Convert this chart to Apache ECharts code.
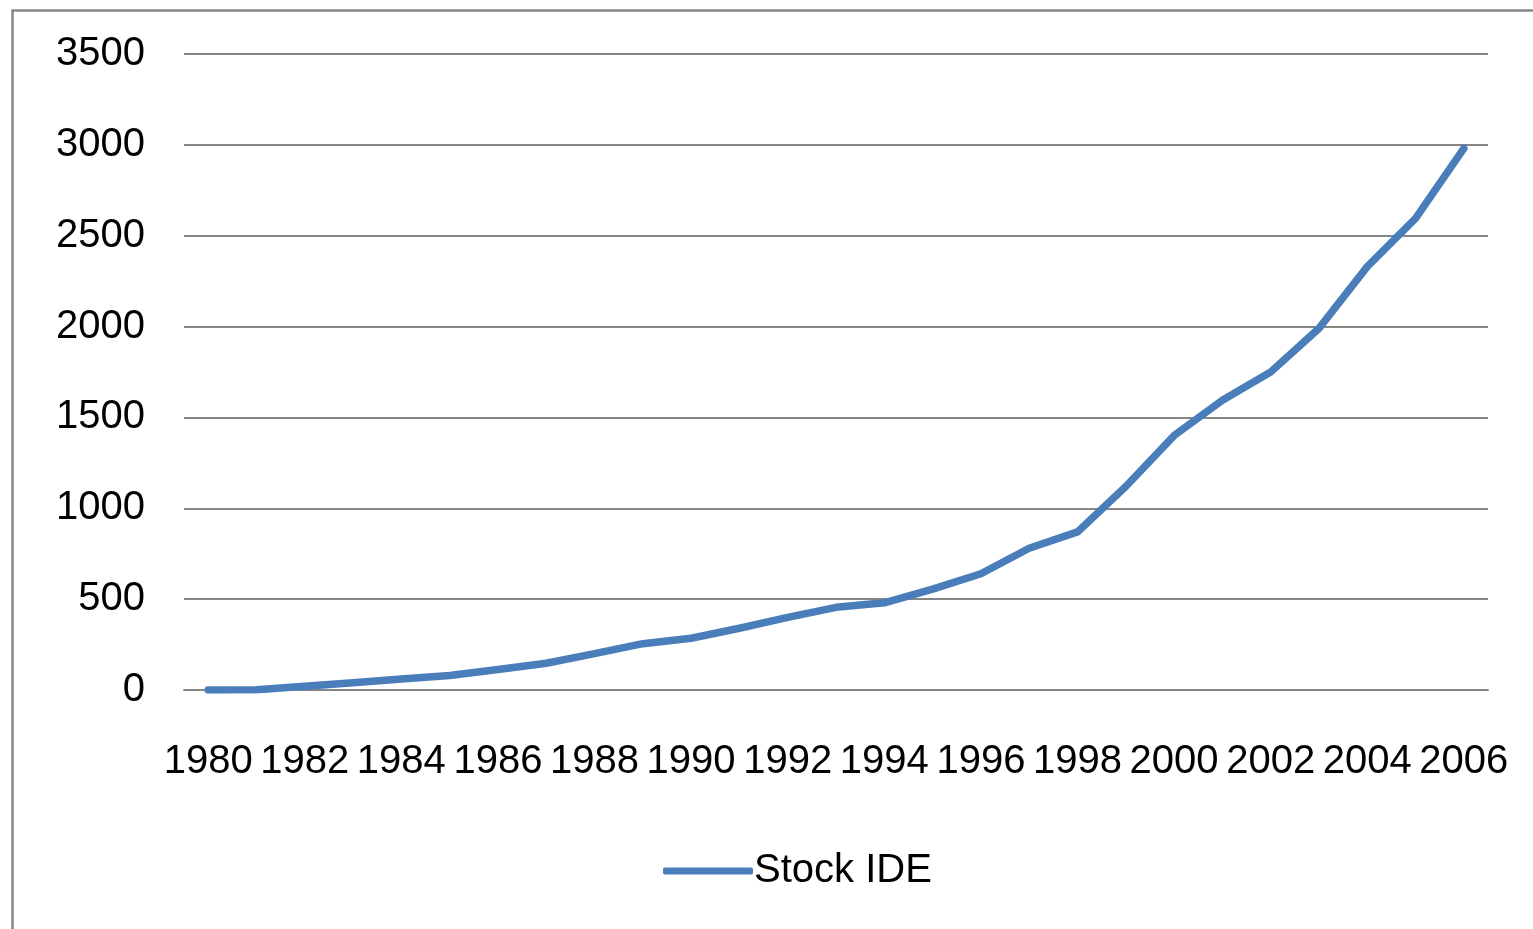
<!DOCTYPE html>
<html>
<head>
<meta charset="utf-8">
<style>html,body{margin:0;padding:0;background:#fff;}#c{width:1533px;height:929px;}</style>
<script src="https://cdn.jsdelivr.net/npm/echarts@6/dist/echarts.min.js"></script>
</head>
<body>
<div id="c"></div>
<script>
const years = ['1980','1981','1982','1983','1984','1985','1986','1987','1988','1989','1990','1991','1992','1993','1994','1995','1996','1997','1998','1999','2000','2001','2002','2003','2004','2005','2006'];
const stockIDE = [0,2,20,40,60,80,113,147,200,255,285,340,400,455,480,555,640,780,870,1120,1400,1595,1750,1990,2330,2595,2980];
const seriesName = 'Stock IDE';

const chart = echarts.init(document.getElementById('c'));
const font = '"Liberation Sans", Arial, sans-serif';
chart.setOption({
  animation: false,
  graphic: [{
    type: 'rect', left: 10, top: 8, z: -1,
    shape: { width: 3000, height: 3000 },
    style: { fill: 'none', stroke: '#868686', lineWidth: 2.5 }
  }],
  grid: { left: 184, right: 45, top: 54, bottom: 239, containLabel: false },
  legend: {
    left: 658, top: 846,
    itemWidth: 90, itemHeight: 7, itemGap: 10,
    icon: 'roundRect',
    itemStyle: { color: '#4A7EBB' },
    textStyle: { fontFamily: font, fontSize: 40, color: '#000', padding: [0,0,0,-4] },
    data: [seriesName]
  },
  xAxis: {
    type: 'category', data: years, boundaryGap: true,
    axisLine: { show: true, lineStyle: { color: '#868686', width: 2 } },
    axisTick: { show: false },
    axisLabel: { interval: 1, fontFamily: font, fontSize: 40, color: '#000', margin: 52 }
  },
  yAxis: {
    type: 'value', min: 0, max: 3500, interval: 500,
    axisLine: { show: false }, axisTick: { show: false },
    axisLabel: { fontFamily: font, fontSize: 40, color: '#000', margin: 39, padding: [4,0,0,0],
      formatter: v => String(v) },
    splitLine: { lineStyle: { color: '#868686', width: 2 } }
  },
  series: [{
    name: seriesName, type: 'line', data: stockIDE,
    symbol: 'none', smooth: false,
    lineStyle: { color: '#4A7EBB', width: 7.5, cap: 'round', join: 'round' },
    itemStyle: { color: '#4A7EBB' }
  }]
});
</script>
</body>
</html>
